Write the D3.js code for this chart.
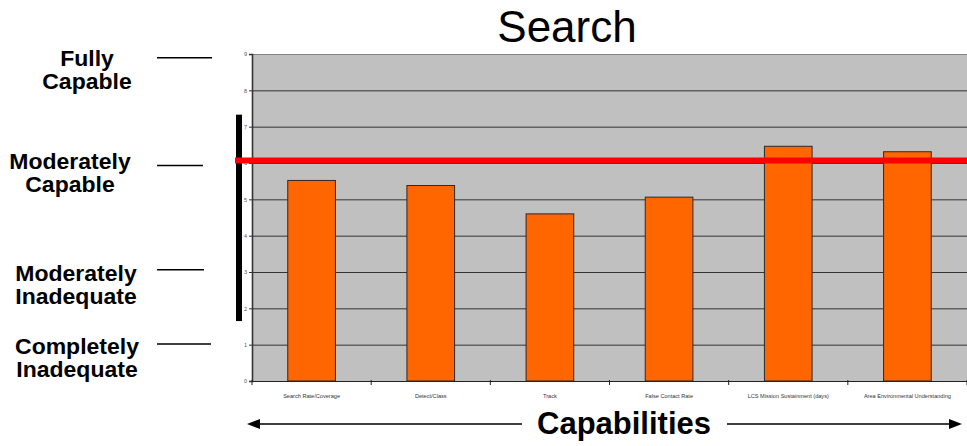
<!DOCTYPE html>
<html>
<head>
<meta charset="utf-8">
<script src="https://cdn.jsdelivr.net/npm/d3@7"></script>
<style>
  html, body { margin: 0; padding: 0; background: #fff; }
  svg { display: block; }
</style>
</head>
<body>
<svg id="chart" width="967" height="446"></svg>
<script>
// Capability scores per search sub-area (0 = completely inadequate, 9 = fully capable)
const categories = [
  "Search Rate/Coverage",
  "Detect/Class",
  "Track",
  "False Contact Rate",
  "LCS Mission Sustainment (days)",
  "Area Environmental Understanding"
];
const scores = [5.52, 5.38, 4.6, 5.06, 6.46, 6.31];
const yTicks = [0, 1, 2, 3, 4, 5, 6, 7, 8, 9];
const threshold = 6.07;            // required capability level (red line)
const spanRange = [1.65, 7.33];    // black range bar beside the axis
const levelLabels = [
  ["Fully", "Capable"],
  ["Moderately", "Capable"],
  ["Moderately", "Inadequate"],
  ["Completely", "Inadequate"]
];
const levelValues = [8.9, 5.93, 3.06, 1.02];
const chartTitle = "Search";
const axisTitle = "Capabilities";

const svg = d3.select("#chart");
const plot = { left: 252, right: 967, top: 54, bottom: 381 };

const x = d3.scaleBand()
  .domain(categories)
  .range([plot.left, plot.right])
  .paddingInner(0.6)
  .paddingOuter(0.3);

const y = d3.scaleLinear()
  .domain([0, 9])
  .range([plot.bottom, plot.top]);

// plot background
svg.append("rect")
  .attr("x", plot.left).attr("y", plot.top)
  .attr("width", plot.right - plot.left)
  .attr("height", plot.bottom - plot.top)
  .attr("fill", "#c0c0c0");
svg.append("line")
  .attr("x1", plot.left).attr("x2", plot.right)
  .attr("y1", plot.top + 0.5).attr("y2", plot.top + 0.5)
  .attr("stroke", "#808080").attr("stroke-width", 1);

// horizontal gridlines
const grid = svg.append("g")
  .attr("transform", `translate(${plot.left},0)`)
  .call(d3.axisLeft(y)
    .tickValues(yTicks.filter(v => v > 0 && v < 9))
    .tickSize(-(plot.right - plot.left))
    .tickFormat(""));
grid.select(".domain").remove();
grid.selectAll(".tick line").attr("stroke", "#333").attr("stroke-width", 1);

// bars
svg.append("g").selectAll("rect")
  .data(categories)
  .join("rect")
  .attr("x", d => x(d))
  .attr("width", x.bandwidth())
  .attr("y", (d, i) => y(scores[i]))
  .attr("height", (d, i) => y(0) - y(scores[i]))
  .attr("fill", "#ff6600")
  .attr("stroke", "#2a2a2a")
  .attr("stroke-width", 1);

// y axis
const yAxis = svg.append("g")
  .attr("transform", `translate(${plot.left},0)`)
  .call(d3.axisLeft(y).tickValues(yTicks).tickSize(3).tickPadding(2));
yAxis.select(".domain").attr("stroke", "#333").attr("stroke-width", 1.6);
yAxis.selectAll(".tick line").attr("stroke", "#333");
yAxis.selectAll(".tick text")
  .attr("font-family", "Liberation Sans, Arial, sans-serif")
  .attr("font-size", 5.5)
  .attr("fill", "#555");

// x axis: labels under each bar, ticks at category boundaries
const xAxis = svg.append("g")
  .attr("transform", `translate(0,${plot.bottom})`)
  .call(d3.axisBottom(x).tickSize(0).tickPadding(13));
xAxis.select(".domain").attr("stroke", "#222").attr("stroke-width", 1);
xAxis.selectAll(".tick text")
  .attr("font-family", "Liberation Sans Narrow, Liberation Sans, Arial, sans-serif")
  .attr("font-size", 5.6)
  .attr("fill", "#333");
const boundaries = categories.map(c => x(c) - x.step() * x.paddingOuter())
  .concat([plot.right]);
svg.append("g").selectAll("line")
  .data(boundaries)
  .join("line")
  .attr("x1", d => d).attr("x2", d => d)
  .attr("y1", plot.bottom - 1).attr("y2", plot.bottom + 4)
  .attr("stroke", "#222").attr("stroke-width", 1);

// black range bar
svg.append("rect")
  .attr("x", 236).attr("width", 6)
  .attr("y", y(spanRange[1]))
  .attr("height", y(spanRange[0]) - y(spanRange[1]))
  .attr("fill", "#000");

// threshold line
svg.append("line")
  .attr("x1", 235).attr("x2", plot.right)
  .attr("y1", y(threshold)).attr("y2", y(threshold))
  .attr("stroke", "#ff0000").attr("stroke-width", 6);

// title
svg.append("text")
  .attr("x", 567).attr("y", 42)
  .attr("text-anchor", "middle")
  .attr("font-family", "Liberation Sans, Arial, sans-serif")
  .attr("font-size", 44)
  .attr("fill", "#000")
  .text(chartTitle);

// capability level labels with leader lines
const labelLayout = [
  { cx: 87, dy: 8.5,  x1: 157, x2: 212 },
  { cx: 70, dy: 3.5,  x1: 157, x2: 203 },
  { cx: 76, dy: 11,   x1: 157, x2: 204 },
  { cx: 77, dy: 10.5, x1: 157, x2: 211 }
];
levelLabels.forEach((lines, i) => {
  const ly = y(levelValues[i]);
  const lay = labelLayout[i];
  svg.append("line")
    .attr("x1", lay.x1).attr("x2", lay.x2)
    .attr("y1", ly).attr("y2", ly)
    .attr("stroke", "#000").attr("stroke-width", 1.5);
  lines.forEach((s, k) => {
    const t = svg.append("text")
      .attr("x", lay.cx)
      .attr("y", ly + lay.dy + k * 23)
      .attr("text-anchor", "middle")
      .attr("font-family", "Liberation Sans, Arial, sans-serif")
      .attr("font-weight", "bold")
      .attr("font-size", 22)
      .attr("fill", "#000")
      .text(s);
    // widen slightly so the bold labels keep their full width
    const w = t.node().getComputedTextLength();
    t.attr("textLength", w * 1.045).attr("lengthAdjust", "spacingAndGlyphs");
  });
});

// axis title with arrows
const arrowY = 424;
svg.append("text")
  .attr("x", 624).attr("y", 434)
  .attr("text-anchor", "middle")
  .attr("font-family", "Liberation Sans, Arial, sans-serif")
  .attr("font-weight", "bold")
  .attr("font-size", 31)
  .attr("fill", "#000")
  .text(axisTitle);
svg.append("line")
  .attr("x1", 256).attr("x2", 522)
  .attr("y1", arrowY).attr("y2", arrowY)
  .attr("stroke", "#000").attr("stroke-width", 1.5);
svg.append("line")
  .attr("x1", 727).attr("x2", 952)
  .attr("y1", arrowY).attr("y2", arrowY)
  .attr("stroke", "#000").attr("stroke-width", 1.5);
svg.append("path")
  .attr("d", `M247,${arrowY} L260,${arrowY - 5} L260,${arrowY + 5} Z`)
  .attr("fill", "#000");
svg.append("path")
  .attr("d", `M962,${arrowY} L949,${arrowY - 5} L949,${arrowY + 5} Z`)
  .attr("fill", "#000");
</script>
</body>
</html>
